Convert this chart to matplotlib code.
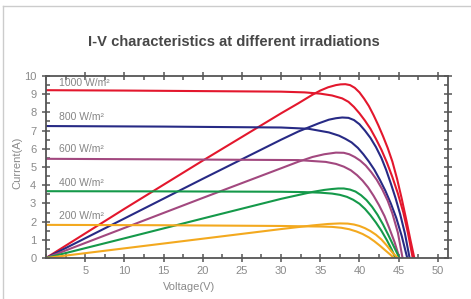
import matplotlib
matplotlib.use("Agg")
import matplotlib.pyplot as plt
from matplotlib.lines import Line2D
from matplotlib.ticker import MultipleLocator

# irradiance levels and colours
levels = ["1000 W/m²", "800 W/m²", "600 W/m²", "400 W/m²", "200 W/m²"]
colors = ["#e3172d", "#272a85", "#a2487f", "#15994a", "#f3a91f"]

# I-V curves (flat then knee)
iv_v_1000 = [0, 10, 20, 30, 33, 35, 36.5, 37.8, 38.6, 39.3, 40.0, 40.7, 41.4, 42.1, 42.8, 43.5, 44.2, 44.9, 45.6, 46.2, 46.8]
iv_i_1000 = [9.22, 9.2, 9.17, 9.14, 9.1, 9.03, 8.93, 8.77, 8.58, 8.3, 7.95, 7.55, 7.1, 6.55, 5.95, 5.25, 4.45, 3.55, 2.5, 1.35, 0]
iv_v_800 = [0, 15, 30, 33.5, 34.8, 36.1, 37.4, 38.2, 39.0, 39.8, 40.5, 41.2, 41.9, 42.6, 43.3, 44.0, 44.7, 45.4, 46.1]
iv_i_800 = [7.25, 7.22, 7.17, 7.1, 7.0, 6.9, 6.72, 6.55, 6.35, 6.05, 5.7, 5.3, 4.85, 4.3, 3.7, 3.0, 2.2, 1.2, 0]
iv_v_600 = [0, 15, 32.2, 35.7, 37.0, 38.0, 38.9, 39.7, 40.4, 41.1, 41.8, 42.5, 43.2, 43.8, 44.5, 45.1]
iv_i_600 = [5.45, 5.42, 5.38, 5.28, 5.17, 5.02, 4.82, 4.55, 4.25, 3.88, 3.42, 2.9, 2.3, 1.65, 0.85, 0]
iv_v_400 = [0, 15, 30, 33, 35, 36.5, 37.5, 38.4, 39.2, 40.0, 40.7, 41.4, 42.1, 42.8, 43.5, 44.1, 44.6]
iv_i_400 = [3.67, 3.66, 3.64, 3.62, 3.59, 3.54, 3.47, 3.36, 3.2, 2.98, 2.7, 2.35, 1.95, 1.5, 0.98, 0.48, 0]
iv_v_200 = [0, 15, 30, 33, 35, 36.5, 37.7, 38.7, 39.6, 40.4, 41.2, 41.9, 42.6, 43.3, 43.9, 44.4]
iv_i_200 = [1.82, 1.8, 1.76, 1.74, 1.73, 1.71, 1.66, 1.58, 1.46, 1.32, 1.13, 0.92, 0.68, 0.42, 0.2, 0]

# P-V shaped curves (rising line, peak near 38 V)
pv_v_1000 = [0, 10, 20, 30, 32.2, 34.0, 35.0, 36.0, 37.0, 37.6, 38.2, 38.8, 39.4, 40.0, 40.6, 41.2, 41.8, 42.4, 43.0, 43.6, 44.2, 44.8, 45.4, 46.0, 46.5, 47.0]
pv_i_1000 = [0, 2.7, 5.35, 7.95, 8.5, 8.97, 9.2, 9.38, 9.5, 9.54, 9.55, 9.5, 9.35, 9.1, 8.75, 8.35, 7.85, 7.3, 6.7, 6.05, 5.3, 4.35, 3.25, 2.05, 1.0, 0]
pv_v_800 = [0, 10, 20, 30, 32.2, 34.8, 36.1, 37.0, 37.8, 38.6, 39.3, 40.0, 40.7, 41.4, 42.1, 42.8, 43.4, 44.0, 44.6, 45.2, 45.8, 46.4]
pv_i_800 = [0, 2.17, 4.35, 6.5, 6.95, 7.4, 7.6, 7.68, 7.72, 7.7, 7.58, 7.35, 7.0, 6.6, 6.1, 5.5, 4.85, 4.1, 3.3, 2.4, 1.35, 0]
pv_v_600 = [0, 10, 20, 30, 32.2, 34, 35.5, 37, 38, 38.7, 39.4, 40.1, 40.8, 41.5, 42.2, 42.9, 43.6, 44.2, 44.9, 45.5]
pv_i_600 = [0, 1.65, 3.3, 4.93, 5.29, 5.55, 5.7, 5.79, 5.78, 5.7, 5.55, 5.35, 5.08, 4.72, 4.3, 3.78, 3.15, 2.45, 1.4, 0]
pv_v_400 = [0, 10, 20, 30, 32.2, 34, 35.5, 36.5, 37.3, 38, 38.8, 39.5, 40.2, 40.9, 41.6, 42.3, 43.0, 43.7, 44.4, 45.1]
pv_i_400 = [0, 1.08, 2.17, 3.25, 3.46, 3.63, 3.74, 3.79, 3.82, 3.82, 3.76, 3.65, 3.45, 3.18, 2.82, 2.38, 1.85, 1.25, 0.62, 0]
pv_v_200 = [0, 10, 20, 30, 32.2, 34, 36, 37.5, 38.5, 39.3, 40.0, 40.7, 41.4, 42.1, 42.8, 43.5, 44.2, 44.9]
pv_i_200 = [0, 0.53, 1.06, 1.59, 1.7, 1.79, 1.87, 1.9, 1.89, 1.84, 1.76, 1.64, 1.48, 1.28, 1.02, 0.68, 0.3, 0]

# label positions (V, I)
label_v = [1.7, 1.7, 1.7, 1.7, 1.7]
label_i = [9.6, 7.77, 5.97, 4.1, 2.3]

iv = [(iv_v_1000, iv_i_1000), (iv_v_800, iv_i_800), (iv_v_600, iv_i_600),
      (iv_v_400, iv_i_400), (iv_v_200, iv_i_200)]
pv = [(pv_v_1000, pv_i_1000), (pv_v_800, pv_i_800), (pv_v_600, pv_i_600),
      (pv_v_400, pv_i_400), (pv_v_200, pv_i_200)]

plt.rcParams['font.family'] = ['Liberation Sans', 'DejaVu Sans']

fig = plt.figure(figsize=(4.71, 2.99), dpi=100)
ax = fig.add_axes([46/471, 1-258/299, 402/471, 182/299])

for k in range(5):
    ax.plot(iv[k][0], iv[k][1], color=colors[k], lw=1.5, solid_joinstyle='round')
    ax.plot(pv[k][0], pv[k][1], color=colors[k], lw=1.5, solid_joinstyle='round')
    ax.text(label_v[k], label_i[k], levels[k], color='#858585', fontsize=7.5,
            va='center', ha='left')

ax.set_xlim(0, 51.3)
ax.set_ylim(0, 10)
ax.xaxis.set_major_locator(MultipleLocator(5))
ax.xaxis.set_minor_locator(MultipleLocator(2.5))
ax.yaxis.set_major_locator(MultipleLocator(1))
ax.yaxis.set_minor_locator(MultipleLocator(0.5))
ax.set_xticks([5, 10, 15, 20, 25, 30, 35, 40, 45, 50])

for s in ax.spines.values():
    s.set_color('#555555')
    s.set_linewidth(1.3)

ax.tick_params(which='major', direction='inout', length=6, width=1.1, color='#555555',
               top=True, right=True, labelsize=8, labelcolor='#8a8a8a')
ax.tick_params(which='minor', direction='in', length=3, width=1.1, color='#555555',
               top=True, right=True)
ax.tick_params(axis='y', which='major', pad=4)
ax.tick_params(axis='x', which='major', pad=3)

fig.text(189/471, 1-286.5/299, "Voltage(V)", ha='center', va='center',
         fontsize=8, color='#8a8a8a')
fig.text(17/471, 1-163/299, "Current(A)", ha='center', va='center',
         fontsize=8, color='#8a8a8a', rotation=90)
fig.text(234/471, 1-42/299, "I-V characteristics at different irradiations",
         ha='center', va='center', fontsize=10.6, fontweight='bold', color='#474747')

# thin frame at top and left edge
fig.add_artist(Line2D([3/471, 1], [1-6/299, 1-6/299], transform=fig.transFigure,
                      color='#cccccc', lw=1))
fig.add_artist(Line2D([3/471, 3/471], [0, 1-6/299], transform=fig.transFigure,
                      color='#cccccc', lw=1))

fig.savefig("out.png", dpi=100)
